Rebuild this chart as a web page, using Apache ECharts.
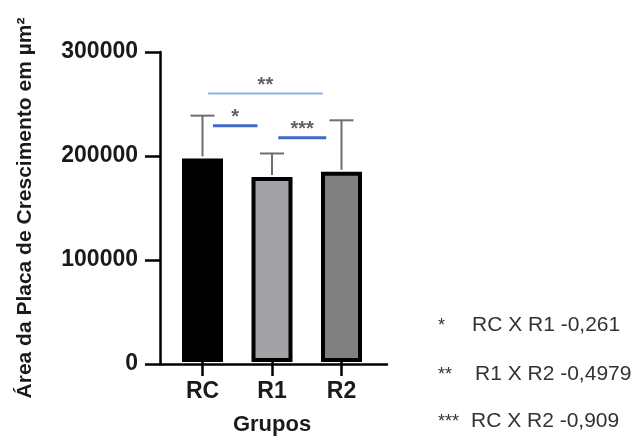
<!DOCTYPE html>
<html>
<head>
<meta charset="utf-8">
<script src="https://cdn.jsdelivr.net/npm/echarts@6/dist/echarts.min.js"></script>
<style>
  html, body { margin: 0; padding: 0; background: #fff; }
  #chart { width: 643px; height: 441px; }
</style>
</head>
<body>
<div id="chart"></div>
<script>
// data
const categories = ['RC', 'R1', 'R2'];
const means = [197000, 179000, 184000];
const sdUp = [41400, 22800, 49900];
const yTicks = [0, 100000, 200000, 300000];

// comparisons drawn over the bars (x in category units, y in µm²)
const sigLabels = ['*', '**', '***'];
const sigFrom = [0.15, 0.08, 1.09];
const sigTo = [0.79, 1.73, 1.78];
const sigLevel = [229000, 260000, 217600];

// notes on the right
const noteStars = ['*', '**', '***'];
const noteTexts = ['RC X R1 -0,261', 'R1 X R2 -0,4979', 'RC X R2 -0,909'];

const font = 'Liberation Sans, Arial, sans-serif';
const barFill = ['#000000', '#a2a2a6', '#808080'];
const sigColor = ['#3d6bc8', '#8fb0e2', '#3d6bc8'];

let chart = echarts.init(document.getElementById('chart'));

let errorSeries = {
  type: 'custom',
  xAxisIndex: 1,
  yAxisIndex: 1,
  data: means.map((m, i) => [i, m, m + sdUp[i]]),
  renderItem: function (params, api) {
    let base = api.coord([api.value(0), api.value(1)]);
    let top = api.coord([api.value(0), api.value(2)]);
    let half = 12;
    let style = { stroke: '#6e6e6e', lineWidth: 2 };
    return {
      type: 'group',
      children: [
        { type: 'line', shape: { x1: base[0], y1: base[1] - 2, x2: top[0], y2: top[1] }, style: style },
        { type: 'line', shape: { x1: top[0] - half, y1: top[1], x2: top[0] + half, y2: top[1] }, style: style }
      ]
    };
  },
  z: 1
};

let sigSeries = sigLabels.map((s, i) => ({
  type: 'line',
  xAxisIndex: 0,
  yAxisIndex: 0,
  data: [[sigFrom[i], sigLevel[i]], [sigTo[i], sigLevel[i]]],
  symbol: 'none',
  lineStyle: { color: sigColor[i], width: i === 1 ? 2 : 3 },
  silent: true
}));

let sigTextSeries = {
  type: 'scatter',
  xAxisIndex: 0,
  yAxisIndex: 0,
  symbolSize: 0,
  data: sigLabels.map((s, i) => [(sigFrom[i] + sigTo[i]) / 2, sigLevel[i]]),
  label: {
    show: true,
    position: 'top',
    distance: -2,
    formatter: p => sigLabels[p.dataIndex],
    color: '#3a3a3a',
    fontSize: 20,
    fontWeight: 'bold',
    fontFamily: font
  },
  silent: true
};

let graphics = [];
let rowY = [327, 376, 423];
let textX = [472, 475, 471];
noteTexts.forEach((t, i) => {
  graphics.push({
    type: 'text', left: 438, top: rowY[i] - 10,
    style: { text: noteStars[i], fill: '#333', font: '18px ' + font }
  });
  graphics.push({
    type: 'text', left: textX[i], top: rowY[i] - 12,
    style: { text: t, fill: '#333', font: '21px ' + font }
  });
});

let option = {
  animation: false,
  backgroundColor: '#fff',
  grid: [
    { left: 160, right: 256, top: 52, bottom: 77 },
    { left: 167.75, width: 208.5, top: 52, bottom: 77 }
  ],
  xAxis: [
    {
      type: 'value',
      gridIndex: 0,
      min: -0.6115,
      max: 2.6547,
      axisLine: { show: true, onZero: false, lineStyle: { color: '#000', width: 2.5 } },
      axisTick: { show: false },
      axisLabel: { show: false },
      splitLine: { show: false }
    },
    {
      type: 'category',
      gridIndex: 1,
      data: categories,
      name: 'Grupos',
      nameLocation: 'middle',
      nameGap: 52,
      nameTextStyle: { color: '#1a1a1a', fontSize: 22, fontWeight: 'bold', fontFamily: font },
      axisLine: { show: false, onZero: false },
      axisTick: { show: true, alignWithLabel: true, length: 14, lineStyle: { color: '#000', width: 2.5 } },
      axisLabel: { color: '#1a1a1a', fontSize: 23, fontWeight: 'bold', fontFamily: font, margin: 18 }
    }
  ],
  yAxis: [
    {
      type: 'value',
      gridIndex: 0,
      min: yTicks[0],
      max: yTicks[yTicks.length - 1],
      interval: yTicks[1] - yTicks[0],
      name: 'Área da Placa de Crescimento em µm²',
      nameLocation: 'middle',
      nameGap: 124,
      nameTextStyle: { color: '#1a1a1a', fontSize: 21, fontWeight: 'bold', fontFamily: font },
      axisLine: { show: true, onZero: false, lineStyle: { color: '#000', width: 2.5 } },
      axisTick: { show: true, length: 15, lineStyle: { color: '#000', width: 2.5 } },
      axisLabel: {
        color: '#1a1a1a', fontSize: 23, fontWeight: 'bold', fontFamily: font, margin: 22,
        formatter: v => String(v)
      },
      splitLine: { show: false }
    },
    {
      type: 'value',
      gridIndex: 1,
      min: yTicks[0],
      max: yTicks[yTicks.length - 1],
      show: false
    }
  ],
  series: [
    {
      type: 'bar',
      xAxisIndex: 1,
      yAxisIndex: 1,
      barWidth: 41,
      data: means.map((m, i) => ({
        value: m,
        itemStyle: { color: barFill[i], borderColor: '#000', borderWidth: 4 }
      })),
      z: 2
    },
    errorSeries
  ].concat(sigSeries, [sigTextSeries]),
  graphic: graphics
};

chart.setOption(option);
</script>
</body>
</html>
